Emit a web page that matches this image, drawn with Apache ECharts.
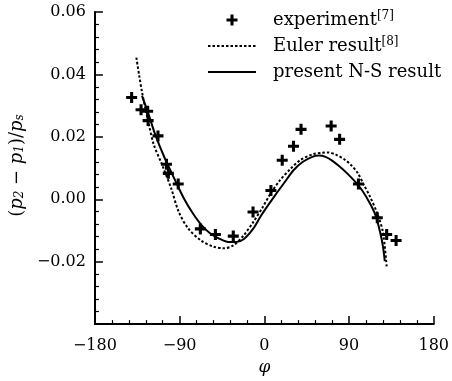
<!DOCTYPE html>
<html>
<head>
<meta charset="utf-8">
<script src="https://cdn.jsdelivr.net/npm/echarts@6/dist/echarts.min.js"></script>
<style>
  html, body { margin: 0; padding: 0; background: #fff; }
  #chart { width: 452px; height: 381px; }
</style>
</head>
<body>
<div id="chart"></div>
<script>
// experiment [7]: phi (deg), (p2 - p1)/ps
const expPhi = [-141, -131, -124, -123.5, -113, -104, -102, -91.5, -68, -52, -33, -12, 7, 19, 31, 39, 71, 80, 100, 120, 130, 140];
const expVal = [0.0326, 0.0287, 0.0282, 0.0252, 0.0203, 0.0112, 0.0083, 0.0049, -0.0095, -0.0113, -0.0118, -0.0041, 0.0028, 0.0125, 0.0170, 0.0224, 0.0235, 0.0192, 0.0049, -0.0059, -0.0113, -0.0132];

// Euler result [8]
const eulerPhi = [-136, -133, -130, -126.5, -122.7, -117.5, -109, -99, -91, -81, -67, -54, -43, -33, -22, -12, -2, 7, 17, 28, 38, 52, 61, 68, 76, 85, 92, 99, 106, 112, 120, 126, 130];
const eulerVal = [0.0454, 0.0397, 0.0344, 0.0292, 0.0240, 0.0175, 0.0113, 0.0035, -0.0040, -0.0093, -0.0133, -0.0152, -0.0157, -0.0148, -0.0116, -0.0074, -0.0027, 0.0020, 0.0062, 0.0098, 0.0125, 0.0145, 0.0149, 0.0150, 0.0143, 0.0128, 0.0110, 0.0085, 0.0045, 0.0010, -0.0045, -0.0105, -0.0215];

// present N-S result
const nsPhi = [-130, -123, -116, -106, -95, -85, -76, -67, -58, -48, -38, -30, -22, -12, -4, 5, 12, 21, 31, 41, 51, 58, 65, 72, 80, 88, 96, 104, 112, 118, 123, 126, 128];
const nsVal = [0.0331, 0.0272, 0.0208, 0.0133, 0.0062, 0.0000, -0.0045, -0.0082, -0.0108, -0.0126, -0.0137, -0.0137, -0.0128, -0.0095, -0.0055, -0.0015, 0.0015, 0.0052, 0.0093, 0.0120, 0.0136, 0.0140, 0.0136, 0.0124, 0.0105, 0.0083, 0.0058, 0.0028, -0.0012, -0.0050, -0.0105, -0.0150, -0.0198];

const xTicks = [-180, -90, 0, 90, 180];
const yTicks = [-0.02, 0.00, 0.02, 0.04, 0.06];

const zip = (xs, ys) => xs.map((x, i) => [x, ys[i]]);
const serif = 'DejaVu Serif';
const cross = 'path://M3.6,0H6.4V3.6H10V6.4H6.4V10H3.6V6.4H0V3.6H3.6Z';

const legendNames = {
  experiment: 'experiment{sup|[7]}',
  euler: 'Euler result{sup|[8]}',
  ns: 'present N-S result'
};

const chart = echarts.init(document.getElementById('chart'), null, { renderer: 'canvas' });

chart.setOption({
  animation: false,
  backgroundColor: '#fff',
  grid: { left: 92, right: 13, top: 12, bottom: 51 },
  legend: {
    orient: 'vertical',
    left: 207,
    top: 10,
    padding: 0,
    itemWidth: 48,
    itemHeight: 11,
    itemGap: 6,
    selectedMode: false,
    data: [
      { name: 'experiment', icon: cross },
      { name: 'euler', itemStyle: { opacity: 0 } },
      { name: 'ns', itemStyle: { opacity: 0 } }
    ],
    formatter: name => legendNames[name],
    textStyle: {
      fontFamily: serif,
      fontSize: 18,
      lineHeight: 20,
      color: '#000',
      padding: [0, 0, 0, 12],
      rich: {
        sup: { fontFamily: serif, fontSize: 12, lineHeight: 20, verticalAlign: 'top', color: '#000' }
      }
    }
  },
  xAxis: {
    type: 'value',
    min: -180,
    max: 180,
    interval: 90,
    name: 'φ',
    nameLocation: 'middle',
    nameGap: 31,
    nameTextStyle: { fontFamily: serif, fontStyle: 'italic', fontSize: 17, color: '#000' },
    axisLine: { onZero: false, lineStyle: { color: '#000', width: 2 } },
    axisTick: { inside: true, length: 8, lineStyle: { color: '#000', width: 1.5 } },
    minorTick: { show: true, splitNumber: 5, length: 4, lineStyle: { color: '#000', width: 1.2 } },
    axisLabel: {
      margin: 14,
      fontFamily: serif, fontSize: 16, color: '#000',
      formatter: v => xTicks.includes(v) ? String(v).replace('-', '−') : ''
    },
    splitLine: { show: false }
  },
  yAxis: {
    type: 'value',
    min: -0.04,
    max: 0.06,
    interval: 0.02,
    name: '({i|p}{sub|2} − {i|p}{sub|1})/{i|p}{sub|s}',
    nameLocation: 'middle',
    nameGap: 60,
    nameTextStyle: {
      fontFamily: serif, fontSize: 18, color: '#000',
      padding: [0, 0, 0, 5],
      rich: {
        i: { fontFamily: serif, fontStyle: 'italic', fontSize: 18, color: '#000' },
        sub: { fontFamily: serif, fontStyle: 'italic', fontSize: 12, verticalAlign: 'bottom', color: '#000' }
      }
    },
    axisLine: { show: true, onZero: false, lineStyle: { color: '#000', width: 2 } },
    axisTick: { show: true, inside: true, length: 8, lineStyle: { color: '#000', width: 1.5 } },
    minorTick: { show: true, splitNumber: 5, length: 4, lineStyle: { color: '#000', width: 1.2 } },
    axisLabel: {
      margin: 9,
      fontFamily: serif, fontSize: 16, color: '#000',
      formatter: v => {
        const t = yTicks.find(k => Math.abs(k - v) < 1e-9);
        return t === undefined ? '' : t.toFixed(2).replace('-', '−');
      }
    },
    splitLine: { show: false }
  },
  series: [
    {
      name: 'experiment',
      type: 'scatter',
      symbol: cross,
      symbolSize: 11,
      symbolKeepAspect: true,
      itemStyle: { color: '#000', opacity: 1 },
      data: zip(expPhi, expVal),
      z: 3
    },
    {
      name: 'euler',
      type: 'line',
      smooth: 0.3,
      showSymbol: false,
      symbol: 'none',
      lineStyle: { color: '#000', width: 2, type: [2.5, 2] },
      itemStyle: { color: '#000' },
      data: zip(eulerPhi, eulerVal)
    },
    {
      name: 'ns',
      type: 'line',
      smooth: 0.3,
      showSymbol: false,
      symbol: 'none',
      lineStyle: { color: '#000', width: 2 },
      itemStyle: { color: '#000' },
      data: zip(nsPhi, nsVal)
    }
  ]
});
</script>
</body>
</html>
